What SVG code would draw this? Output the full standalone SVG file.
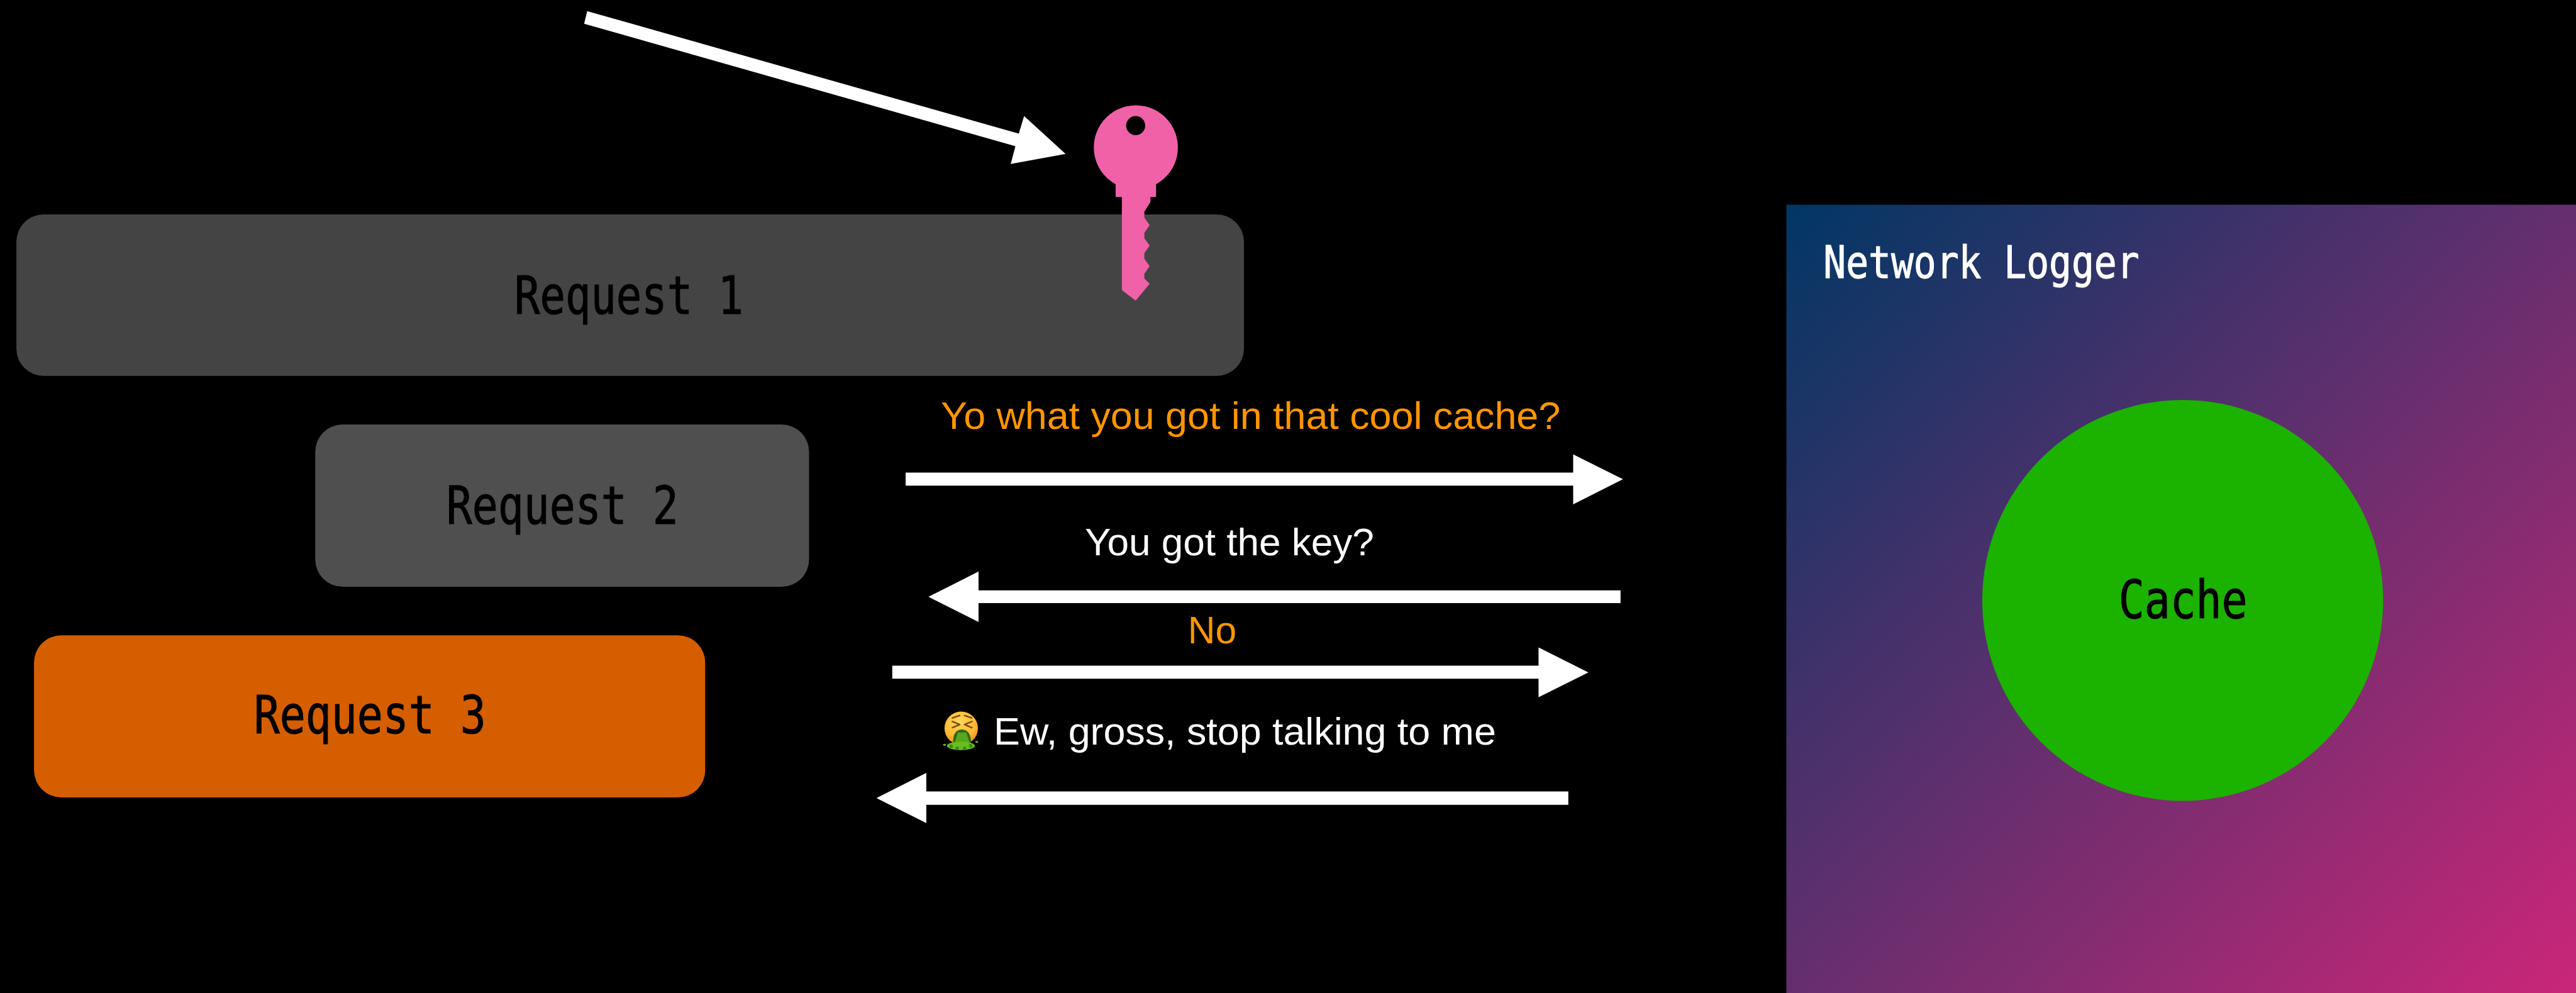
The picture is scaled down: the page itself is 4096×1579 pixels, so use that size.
<svg xmlns="http://www.w3.org/2000/svg" width="4096" height="1579" viewBox="0 0 4096 1579">
<style>
.m{font-family:"DejaVu Sans Mono","Liberation Mono",monospace;font-size:86px;fill:#000;stroke:#000;stroke-width:1.2px}
.n{font-size:74px;fill:#fff;stroke:#fff}
.s{font-family:"Liberation Sans",Arial,sans-serif;font-size:64px;fill:#fff}
.o{fill:#ff9500}
.a{fill:#fff}
</style>
<defs>
<linearGradient id="bg" gradientUnits="userSpaceOnUse" x1="2941" y1="337" x2="4241" y2="1635"><stop offset="0" stop-color="#003764"/><stop offset="1" stop-color="#cb2678"/></linearGradient>
<radialGradient id="face" cx=".45" cy=".3" r=".8"><stop offset="0" stop-color="#ffd95a"/><stop offset=".6" stop-color="#fdb832"/><stop offset="1" stop-color="#ec7d17"/></radialGradient>
</defs>
<rect width="4096" height="1579" fill="#000"/>
<g transform="scale(.96581)">
<g id="request1"><rect x="27" y="353" width="2021" height="266" rx="45" fill="#444"/><text class="m" x="847" y="517" textLength="377" lengthAdjust="spacingAndGlyphs">Request 1</text></g>
<g id="request2"><rect x="519" y="699" width="813" height="267" rx="45" fill="#4f4f4f"/><text class="m" x="735" y="863" textLength="382" lengthAdjust="spacingAndGlyphs">Request 2</text></g>
<g id="request3"><rect x="56" y="1046" width="1105" height="267" rx="45" fill="#d55e00"/><text class="m" x="418" y="1207" textLength="382" lengthAdjust="spacingAndGlyphs">Request 3</text></g>
<g id="network-logger"><rect x="2941" y="337" width="1300" height="1298" fill="url(#bg)"/><text class="m n" x="3002" y="458" textLength="520" lengthAdjust="spacingAndGlyphs">Network Logger</text></g>
<g id="cache"><circle cx="3593.5" cy="988.5" r="330" fill="#1bb200"/><text class="m" x="3488" y="1018" textLength="212" lengthAdjust="spacingAndGlyphs">Cache</text></g>
<g id="connectors">
<polygon class="a" points="966.7,18.3 1677.3,220 1686,191 1754.3,253.3 1664,270 1671.7,240.7 961.7,39"/>
<polygon class="a" points="1491,778 2590,778 2590,748 2672,789 2590,830.5 2590,799.5 1491,799.5"/>
<polygon class="a" points="2668,972 1611,972 1611,941 1528.5,982.5 1611,1024 1611,993 2668,993"/>
<polygon class="a" points="1469,1096 2533,1096 2533,1066 2615,1107 2533,1148 2533,1117.5 1469,1117.5"/>
<polygon class="a" points="2582,1303 1525,1303 1525,1272.6 1443,1314 1525,1355 1525,1325 2582,1325"/>
</g>
<g id="key"><path fill="#f161a8" fill-rule="evenodd" d="M1836.7 303.3A69.2 69.2 0 1 1 1903.3 303.3V324.3H1894V332.7L1884 348.3V358.3L1892.7 370.7L1884 383.3V392.3L1892.7 404.3L1884 416.7V426L1892.7 438.3L1884 450.7V458.3L1892.7 467.3L1869.7 495L1847 477.7V324.3H1836.7ZM1885.4 206.7A15.7 15.7 0 1 0 1854 206.7A15.7 15.7 0 1 0 1885.4 206.7Z"/></g>
<g id="labels">
<text class="s o" x="1549" y="706" textLength="1020" lengthAdjust="spacingAndGlyphs">Yo what you got in that cool cache?</text>
<text class="s" x="1786" y="914" textLength="476" lengthAdjust="spacingAndGlyphs">You got the key?</text>
<text class="s o" x="1955.6" y="1059" textLength="80" lengthAdjust="spacingAndGlyphs">No</text>
<text class="s" x="1636" y="1226" textLength="827" lengthAdjust="spacingAndGlyphs">Ew, gross, stop talking to me</text>
</g>
<g id="emoji">
<circle cx="1582.5" cy="1199" r="27.5" fill="url(#face)"/>
<path d="M1568 1182L1580 1178M1600 1182L1588 1178M1568 1188L1580 1193L1568 1198M1600 1188L1588 1193L1600 1198" fill="none" stroke="#7a4a10" stroke-width="2.6" stroke-linecap="round" stroke-linejoin="round"/>
<path d="M1569 1226Q1568 1201 1584 1201Q1599 1201 1599 1226Z" fill="#2f6a10"/>
<path d="M1577 1206H1591L1597 1226H1571Z" fill="#57a81c"/>
<ellipse cx="1582" cy="1228" rx="23" ry="7" fill="#69bd1e"/>
<g fill="#3a8a12"><circle cx="1566" cy="1229" r="3"/><circle cx="1576" cy="1232" r="3"/><circle cx="1588" cy="1232" r="3"/><circle cx="1598" cy="1228" r="3"/></g>
<ellipse cx="1555" cy="1226.5" rx="2.6" ry="1.5" fill="#68bc1e"/><ellipse cx="1608" cy="1221.5" rx="2.6" ry="1.5" fill="#68bc1e"/>
</g>
</g>
</svg>
